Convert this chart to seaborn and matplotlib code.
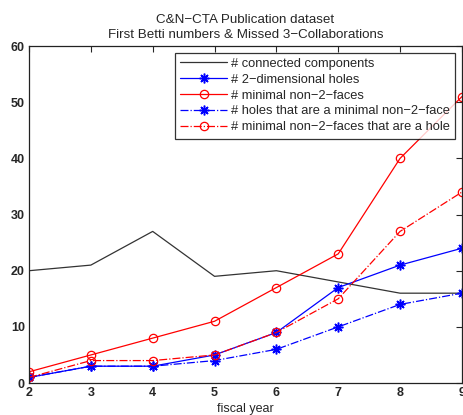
import numpy as np
import pandas as pd
import matplotlib
matplotlib.use("Agg")
import matplotlib.pyplot as plt
import seaborn as sns

years = [2, 3, 4, 5, 6, 7, 8, 9]
connected_components = [20, 21, 27, 19, 20, 18, 16, 16]
holes_2d = [1, 3, 3, 5, 9, 17, 21, 24]
minimal_non2faces = [2, 5, 8, 11, 17, 23, 40, 51]
holes_minimal = [1, 3, 3, 4, 6, 10, 14, 16]
minimal_holes = [1, 4, 4, 5, 9, 15, 27, 34]

labels = [
    "# connected components",
    "# 2\u2212dimensional holes",
    "# minimal non\u22122\u2212faces",
    "# holes that are a minimal non\u22122\u2212face",
    "# minimal non\u22122\u2212faces that are a hole",
]

sns.set_style("white")
plt.rcParams["font.family"] = ["Liberation Sans", "DejaVu Sans"]

fig = plt.figure(figsize=(4.64, 4.15), dpi=100)
ax = fig.add_axes([0.0625, 0.077, 0.933, 0.812])

# asterisk marker: 8-spoke star made of line segments
asterisk = (8, 2, 0)

styles = [
    (connected_components, "#333333", "-", None, dict()),
    (holes_2d, "#0000ff", "-", asterisk, dict(markersize=7, markeredgewidth=1.1)),
    (minimal_non2faces, "#ff0000", "-", "o", dict(markersize=6, markerfacecolor="none", markeredgewidth=0.9)),
    (holes_minimal, "#0000ff", "-.", asterisk, dict(markersize=7, markeredgewidth=1.1)),
    (minimal_holes, "#ff0000", "-.", "o", dict(markersize=6, markerfacecolor="none", markeredgewidth=0.9)),
]

for (vals, color, ls, mk, extra), lab in zip(styles, labels):
    df = pd.DataFrame({"year": years, "value": vals})
    sns.lineplot(data=df, x="year", y="value", ax=ax, color=color, linestyle=ls,
                 marker=mk, markeredgecolor=color, linewidth=0.9, label=lab, **extra)

ax.set_xlim(2, 9)
ax.set_ylim(0, 60)
ax.set_xticks(range(2, 10))
ax.set_yticks(range(0, 61, 10))
ax.tick_params(direction="in", top=True, right=True, length=4, width=0.8,
               labelsize=9, pad=3)
for t in ax.get_xticklabels() + ax.get_yticklabels():
    t.set_fontweight("bold")
for s in ax.spines.values():
    s.set_color("#222222")
    s.set_linewidth(0.9)

ax.set_xlabel("fiscal year", fontsize=9, labelpad=3)
ax.set_ylabel("")
ax.set_title("C&N\u2212CTA Publication dataset\nFirst Betti numbers & Missed 3\u2212Collaborations",
             fontsize=9.6, linespacing=1.25, pad=6)

leg = ax.legend(loc="upper right", fontsize=9.3, frameon=True, fancybox=False,
                edgecolor="black", handlelength=3.6, handletextpad=0.35,
                labelspacing=0.3, borderpad=0.4, borderaxespad=0.5)
leg.get_frame().set_linewidth(0.9)

fig.savefig("out.png", dpi=100)
